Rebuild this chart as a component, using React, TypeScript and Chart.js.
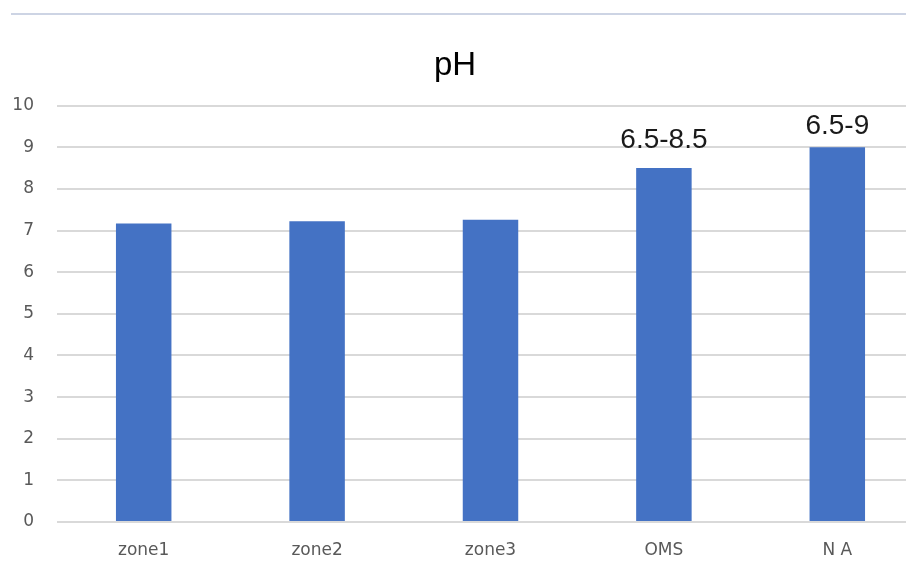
import { useEffect, useRef } from "react";
import { Chart, registerables } from "chart.js";

Chart.register(...registerables);

// pH readings per zone and the reference limits (upper bound drawn as the bar)
const categories = ["zone1", "zone2", "zone3", "OMS", "N A"];
const phValues = [7.17, 7.22, 7.26, 8.5, 9];
const rangeLabels = ["", "", "", "6.5-8.5", "6.5-9"];
const yMin = 0;
const yMax = 10;
const yStep = 1;

const BAR_COLOR = "#4472C4";
const GRID_COLOR = "#d9d9d9";
const TICK_COLOR = "#595959";

// vertical gap between a bar's top and its range label baseline
const LABEL_LIFT = [16, 16, 16, 20, 13];

const rangeLabelPlugin = {
  id: "rangeLabels",
  afterDatasetsDraw(chart: any) {
    const meta = chart.getDatasetMeta(0);
    const ctx = chart.ctx as CanvasRenderingContext2D;
    ctx.save();
    ctx.font = '28px "Liberation Sans", Arial, sans-serif';
    ctx.fillStyle = "#1a1a1a";
    ctx.textAlign = "center";
    ctx.textBaseline = "alphabetic";
    meta.data.forEach((bar: any, i: number) => {
      const text = rangeLabels[i];
      if (!text) return;
      ctx.fillText(text, bar.x, bar.y - LABEL_LIFT[i]);
    });
    ctx.restore();
  },
};

export default function App() {
  const canvasRef = useRef<HTMLCanvasElement | null>(null);

  useEffect(() => {
    const canvas = canvasRef.current;
    if (!canvas) return;
    const chart = new Chart(canvas, {
      type: "bar",
      data: {
        labels: categories,
        datasets: [
          {
            label: "pH",
            data: phValues,
            backgroundColor: BAR_COLOR,
            borderWidth: 0,
            categoryPercentage: 1,
            barPercentage: 0.32,
          },
        ],
      },
      options: {
        responsive: false,
        animation: false,
        devicePixelRatio: 1,
        layout: { padding: 0 },
        plugins: {
          legend: { display: false },
          tooltip: { enabled: false },
          title: {
            display: true,
            text: "pH",
            color: "#000000",
            font: { family: '"Liberation Sans", Arial, sans-serif', size: 33, weight: "normal" },
            padding: { top: 46, bottom: 20 },
          },
        },
        scales: {
          x: {
            grid: { display: false, drawTicks: false },
            border: { display: false },
            ticks: {
              color: TICK_COLOR,
              padding: 18,
              font: { family: '"DejaVu Sans", sans-serif', size: 17 },
            },
            afterFit(scale: any) {
              scale.height = 40;
            },
          },
          y: {
            min: yMin,
            max: yMax,
            ticks: {
              stepSize: yStep,
              color: TICK_COLOR,
              padding: 23,
              font: { family: '"DejaVu Sans", sans-serif', size: 17 },
            },
            grid: { color: GRID_COLOR, lineWidth: 2, drawTicks: false },
            border: { display: false },
            afterFit(scale: any) {
              scale.width = 71;
            },
          },
        },
      },
      plugins: [rangeLabelPlugin],
    });
    return () => chart.destroy();
  }, []);

  return (
    <div
      style={{
        position: "fixed",
        left: 0,
        top: 0,
        width: 906,
        height: 562,
        overflow: "hidden",
        background: "#ffffff",
      }}
    >
      <div
        style={{
          position: "absolute",
          left: 11,
          right: 0,
          top: 13,
          height: 0,
          borderTop: "2px solid #cdd4e4",
        }}
      />
      <canvas
        ref={canvasRef}
        width={938}
        height={562}
        style={{ position: "absolute", left: -14, top: 0, width: 938, height: 562 }}
      />
    </div>
  );
}
